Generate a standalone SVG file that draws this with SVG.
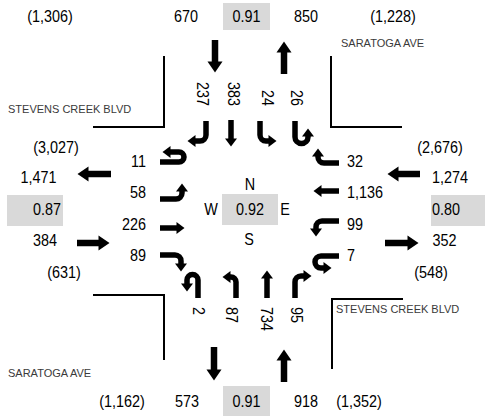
<svg xmlns="http://www.w3.org/2000/svg" width="485" height="416" viewBox="0 0 485 416">
<style>
.n{font-family:"Liberation Sans",Arial,sans-serif;font-size:16px;fill:#000}
.m{text-anchor:middle}
.e{text-anchor:end}
.st{font-family:"Liberation Sans",Arial,sans-serif;font-size:11px;fill:#3a3a3a}
.box{fill:#d9d9d9}
.curb{fill:none;stroke:#000;stroke-width:2}
.lane{fill:none;stroke:#000;stroke-width:5.5;marker-end:url(#h)}
.big{fill:none;stroke:#000;stroke-width:6.5;marker-end:url(#H)}
</style>
<defs>
<marker id="h" markerUnits="userSpaceOnUse" markerWidth="9" markerHeight="12" refX="0.5" refY="6" orient="auto" overflow="visible"><path d="M0,0L8,6L0,12Z" fill="#000"/></marker>
<marker id="H" markerUnits="userSpaceOnUse" markerWidth="12" markerHeight="15" refX="0.5" refY="7.5" orient="auto" overflow="visible"><path d="M0,0L11,7.5L0,15Z" fill="#000"/></marker>
</defs>
<rect width="485" height="416" fill="#fff"/>
<g id="curbs">
<path class="curb" d="M164,56V127H93"/>
<path class="curb" d="M331,56V127H402"/>
<path class="curb" d="M93,295H164V360"/>
<path class="curb" d="M403,299H332V369"/>
</g>
<g id="streets">
<text class="st" x="341" y="47">SARATOGA AVE</text>
<text class="st" x="8" y="113">STEVENS CREEK BLVD</text>
<text class="st" x="336" y="313">STEVENS CREEK BLVD</text>
<text class="st" x="8" y="377">SARATOGA AVE</text>
</g>
<g id="boxes">
<rect class="box" x="223" y="3" width="47" height="27"/>
<rect class="box" x="223" y="386" width="47" height="30"/>
<rect class="box" x="7" y="195" width="56" height="31"/>
<rect class="box" x="431" y="195" width="54" height="31"/>
<rect class="box" x="222" y="194" width="56" height="31"/>
</g>
<g id="north-leg">
<text class="n m" transform="translate(50,22) scale(.9,1)">(1,306)</text>
<text class="n m" transform="translate(186,22) scale(.9,1)">670</text>
<text class="n m" transform="translate(246.5,22) scale(.9,1)">0.91</text>
<text class="n m" transform="translate(306,22) scale(.9,1)">850</text>
<text class="n m" transform="translate(393,22) scale(.9,1)">(1,228)</text>
<text class="n e" transform="translate(197.2,106) rotate(90) scale(.9,1)">237</text>
<text class="n e" transform="translate(228.2,106) rotate(90) scale(.9,1)">383</text>
<text class="n e" transform="translate(262.2,106) rotate(90) scale(.9,1)">24</text>
<text class="n e" transform="translate(291.2,106) rotate(90) scale(.9,1)">26</text>
</g>
<g id="south-leg">
<text class="n m" transform="translate(122,407) scale(.9,1)">(1,162)</text>
<text class="n m" transform="translate(187,407) scale(.9,1)">573</text>
<text class="n m" transform="translate(246.5,407) scale(.9,1)">0.91</text>
<text class="n m" transform="translate(306,407) scale(.9,1)">918</text>
<text class="n m" transform="translate(359,407) scale(.9,1)">(1,352)</text>
<text class="n" transform="translate(193.2,307) rotate(90) scale(.9,1)">2</text>
<text class="n" transform="translate(226.2,307) rotate(90) scale(.9,1)">87</text>
<text class="n" transform="translate(261.2,307) rotate(90) scale(.9,1)">734</text>
<text class="n" transform="translate(291.2,307) rotate(90) scale(.9,1)">95</text>
</g>
<g id="west-leg">
<text class="n m" transform="translate(56,153) scale(.9,1)">(3,027)</text>
<text class="n m" transform="translate(38.5,183) scale(.9,1)">1,471</text>
<text class="n m" transform="translate(47,215) scale(.9,1)">0.87</text>
<text class="n m" transform="translate(45,246) scale(.9,1)">384</text>
<text class="n m" transform="translate(64,278) scale(.9,1)">(631)</text>
<text class="n e" transform="translate(146,167) scale(.9,1)">11</text>
<text class="n e" transform="translate(146,198) scale(.9,1)">58</text>
<text class="n e" transform="translate(146,230) scale(.9,1)">226</text>
<text class="n e" transform="translate(146,261) scale(.9,1)">89</text>
</g>
<g id="east-leg">
<text class="n m" transform="translate(440,153) scale(.9,1)">(2,676)</text>
<text class="n m" transform="translate(450,183) scale(.9,1)">1,274</text>
<text class="n m" transform="translate(446,215) scale(.9,1)">0.80</text>
<text class="n m" transform="translate(444.5,246) scale(.9,1)">352</text>
<text class="n m" transform="translate(431,278) scale(.9,1)">(548)</text>
<text class="n" transform="translate(347,167) scale(.9,1)">32</text>
<text class="n" transform="translate(347,198) scale(.9,1)">1,136</text>
<text class="n" transform="translate(347,230) scale(.9,1)">99</text>
<text class="n" transform="translate(347,261) scale(.9,1)">7</text>
</g>
<g id="center">
<text class="n m" transform="translate(250,190) scale(.9,1)">N</text>
<text class="n m" transform="translate(211,215) scale(.9,1)">W</text>
<text class="n m" transform="translate(250,215) scale(.9,1)">0.92</text>
<text class="n m" transform="translate(285,215) scale(.9,1)">E</text>
<text class="n m" transform="translate(249,245) scale(.9,1)">S</text>
</g>
<g id="connectors">
<path class="big" d="M215,40V62"/>
<path class="big" d="M284,74V52"/>
<path class="big" d="M214,347V370"/>
<path class="big" d="M284,382V360"/>
<path class="big" d="M111,174H88"/>
<path class="big" d="M77,243H99"/>
<path class="big" d="M420,174H398"/>
<path class="big" d="M385,243H408"/>
<path class="lane" d="M206,121V135A6,6 0 0 1 200,141H195"/>
<path class="lane" d="M231,120V139"/>
<path class="lane" d="M260,121V135A6,6 0 0 0 266,141H269"/>
<path class="lane" d="M295,121V137A6.5,6.5 0 0 0 308,137V136"/>
<path class="lane" d="M339,163H324A6,6 0 0 1 318,157V156"/>
<path class="lane" d="M339,191H321"/>
<path class="lane" d="M339,221H322A6,6 0 0 0 316,227V229"/>
<path class="lane" d="M339,256H321A6,6 0 0 0 321,268H324"/>
<path class="lane" d="M160,162H179A5,5 0 0 0 179,152H170"/>
<path class="lane" d="M160,199H176A6,6 0 0 0 182,193V191"/>
<path class="lane" d="M160,228H177"/>
<path class="lane" d="M160,255H175A6,6 0 0 1 181,261V264"/>
<path class="lane" d="M198,298V280A5.5,5.5 0 0 0 187,280V284"/>
<path class="lane" d="M236,298V282A5,5 0 0 0 231,277H230"/>
<path class="lane" d="M267,298V278"/>
<path class="lane" d="M295,298V282A6,6 0 0 1 301,276H304"/>
</g>
</svg>
